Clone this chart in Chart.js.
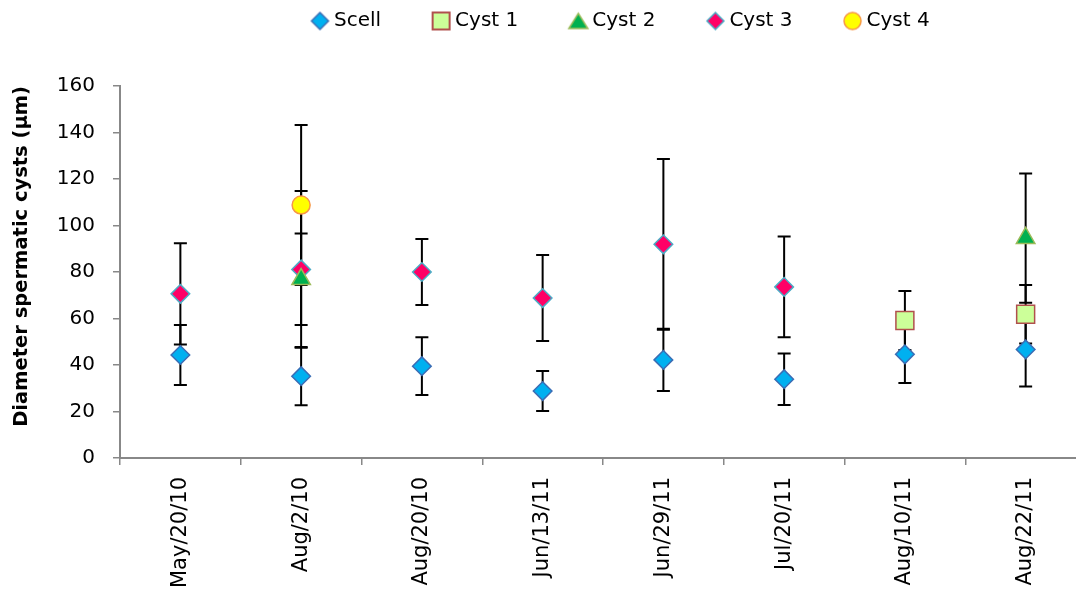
<!DOCTYPE html>
<html>
<head>
<meta charset="utf-8">
<script src="https://cdn.jsdelivr.net/npm/chart.js@4.4.1/dist/chart.umd.min.js"></script>
<style>
  html, body { margin: 0; padding: 0; background: #fff; overflow: hidden; }
  canvas { display: block; }
</style>
</head>
<body>
<canvas id="chart" width="1076" height="600"></canvas>
<script>
// Sampling dates
const categories = ['May/20/10', 'Aug/2/10', 'Aug/20/10', 'Jun/13/11', 'Jun/29/11', 'Jul/20/11', 'Aug/10/11', 'Aug/22/11'];

// Mean diameters (µm) and their error bar half-widths
const scellMean = [44.3, 35.2, 39.5, 28.8, 42.2, 33.9, 44.6, 46.7];
const scellErr  = [12.9, 12.5, 12.4, 8.6, 13.4, 11.1, 12.3, 16.0];

const cyst1Mean = [null, null, null, null, null, null, 59.1, 61.8];
const cyst1Err  = [null, null, null, null, null, null, 12.7, 12.6];

const cyst2Mean = [null, 76.9, null, null, null, null, null, 94.6];
const cyst2Err  = [null, 19.7, null, null, null, null, null, 27.8];

const cyst3Mean = [70.6, 81.1, 80.0, 68.8, 91.9, 73.6, null, null];
const cyst3Err  = [21.8, 33.7, 14.2, 18.5, 36.7, 21.7, null, null];

const cyst4Mean = [null, 108.8, null, null, null, null, null, null];
const cyst4Err  = [null, 34.4, null, null, null, null, null, null];

const seriesNames = ['Scell', 'Cyst 1', 'Cyst 2', 'Cyst 3', 'Cyst 4'];
const yTicks = [0, 20, 40, 60, 80, 100, 120, 140, 160];

// The date axis runs in category slots; the plot is cut off at the right
// edge a little before the end of the last slot.
const X_MIN = -0.5;
const X_MAX = categories.length - 0.5 - 0.083;

const FONT = 'DejaVu Sans';
Chart.defaults.font.family = FONT;
Chart.defaults.color = '#000';

// Small canvases used as legend symbols
function legendIcon(shape, size, fill, stroke, lw) {
  const c = document.createElement('canvas');
  const pad = 3;
  c.width = size + pad * 2;
  c.height = size + pad * 2;
  const g = c.getContext('2d');
  const m = c.width / 2, h = size / 2;
  g.beginPath();
  if (shape === 'diamond') {
    g.moveTo(m, m - h); g.lineTo(m + h, m); g.lineTo(m, m + h); g.lineTo(m - h, m); g.closePath();
  } else if (shape === 'square') {
    g.rect(m - h, m - h, size, size);
  } else if (shape === 'triangle') {
    const th = size * 0.8;
    g.moveTo(m, m - th / 2); g.lineTo(m + h, m + th / 2); g.lineTo(m - h, m + th / 2); g.closePath();
  } else {
    g.arc(m, m, h, 0, Math.PI * 2);
  }
  g.fillStyle = fill; g.fill();
  g.lineWidth = lw; g.strokeStyle = stroke; g.stroke();
  return c;
}

const styles = [
  { shape: 'rectRot',  radius: 9.3,  fill: '#00B0F0', stroke: '#3A6DB5', icon: legendIcon('diamond', 17, '#00B0F0', '#3A6DB5', 1.5) },
  { shape: 'rect',     radius: 12.7, fill: '#CCFF99', stroke: '#B0504D', icon: legendIcon('square', 17, '#CCFF99', '#B0504D', 2) },
  { shape: 'triangle', radius: 10.7, fill: '#00B050', stroke: '#9BBB59', icon: legendIcon('triangle', 19, '#00B050', '#9BBB59', 1.5) },
  { shape: 'rectRot',  radius: 9.3,  fill: '#FF0066', stroke: '#4BACC6', icon: legendIcon('diamond', 17, '#FF0066', '#4BACC6', 1.5) },
  { shape: 'circle',   radius: 9,    fill: '#FFFF00', stroke: '#F79646', icon: legendIcon('circle', 17, '#FFFF00', '#F79646', 1.5) }
];

const means = [scellMean, cyst1Mean, cyst2Mean, cyst3Mean, cyst4Mean];
const errs  = [scellErr, cyst1Err, cyst2Err, cyst3Err, cyst4Err];

const datasets = seriesNames.map((name, i) => ({
  label: name,
  data: means[i].map((v, k) => ({ x: k, y: v })),
  errors: errs[i],
  showLine: false,
  pointStyle: styles[i].shape,
  pointRadius: styles[i].radius,
  pointHoverRadius: styles[i].radius,
  pointBackgroundColor: styles[i].fill,
  pointBorderColor: styles[i].stroke,
  pointBorderWidth: 1.5,
  backgroundColor: styles[i].fill,
  borderColor: styles[i].stroke
}));

// Vertical error bars with caps, drawn beneath the markers
const errorBars = {
  id: 'errorBars',
  beforeDatasetsDraw(chart) {
    const { ctx } = chart;
    const xs = chart.scales.x;
    const ys = chart.scales.y;
    ctx.save();
    ctx.strokeStyle = '#000';
    ctx.lineWidth = 2;
    chart.data.datasets.forEach((ds) => {
      ds.data.forEach((p, i) => {
        const e = ds.errors[i];
        if (p.y == null || e == null) return;
        const x = xs.getPixelForValue(p.x);
        const yt = ys.getPixelForValue(p.y + e);
        const yb = ys.getPixelForValue(p.y - e);
        ctx.beginPath();
        ctx.moveTo(x, yt); ctx.lineTo(x, yb);
        ctx.moveTo(x - 6.5, yt); ctx.lineTo(x + 6.5, yt);
        ctx.moveTo(x - 6.5, yb); ctx.lineTo(x + 6.5, yb);
        ctx.stroke();
      });
    });
    ctx.restore();
  }
};

// Fixes the legend band height and places the legend row
const legendPlacement = {
  id: 'legendPlacement',
  beforeLayout(chart) {
    const lg = chart.legend;
    if (lg && !lg._fixedFit) {
      const fit = lg.fit.bind(lg);
      lg.fit = function () { fit(); this.height = 86; };
      lg._fixedFit = true;
    }
  },
  afterLayout(chart) {
    const lg = chart.legend;
    const pad = lg.options.labels.padding;
    lg.left = 316 - pad;
    lg.top = 21 - 10 - pad;
  }
};

new Chart(document.getElementById('chart'), {
  type: 'line',
  data: { datasets },
  plugins: [errorBars, legendPlacement],
  options: {
    responsive: false,
    maintainAspectRatio: false,
    devicePixelRatio: 1,
    animation: false,
    events: [],
    layout: { padding: 0, autoPadding: false },
    plugins: {
      tooltip: { enabled: false },
      legend: {
        position: 'top',
        align: 'start',
        labels: {
          usePointStyle: true,
          boxWidth: 8,
          padding: 56,
          color: '#000',
          font: { family: FONT, size: 20 },
          generateLabels(chart) {
            return chart.data.datasets.map((ds, i) => ({
              text: ds.label,
              pointStyle: styles[i].icon,
              fillStyle: styles[i].fill,
              strokeStyle: styles[i].stroke,
              lineWidth: 1,
              hidden: false,
              datasetIndex: i
            }));
          }
        }
      }
    },
    scales: {
      // date labels, one at the middle of each slot
      x: {
        type: 'linear',
        position: 'bottom',
        weight: 0,
        min: X_MIN,
        max: X_MAX,
        afterFit(scale) {
          scale.height = 142;
          scale.paddingLeft = 0;
          scale.paddingRight = 0;
        },
        afterBuildTicks(scale) { scale.ticks = categories.map((c, k) => ({ value: k })); },
        border: { display: true, color: '#888888', width: 2 },
        grid: { display: true, drawOnChartArea: false, drawTicks: false },
        ticks: {
          autoSkip: false,
          minRotation: 90,
          maxRotation: 90,
          padding: 19,
          color: '#000',
          font: { family: FONT, size: 21 },
          callback: (v) => categories[v]
        }
      },
      // tick marks on the slot boundaries
      xSlots: {
        type: 'linear',
        position: 'bottom',
        weight: -1,
        min: X_MIN,
        max: X_MAX,
        afterFit(scale) {
          scale.height = 0;
          scale.paddingLeft = 0;
          scale.paddingRight = 0;
        },
        afterBuildTicks(scale) { scale.ticks = categories.map((c, k) => ({ value: k - 0.5 })); },
        border: { display: false },
        grid: { drawOnChartArea: false, drawTicks: true, tickLength: 7, color: '#888888', lineWidth: 1.5 },
        ticks: { display: false }
      },
      y: {
        min: 0,
        max: 160,
        afterFit(scale) { scale.width = 120; },
        afterBuildTicks(scale) { scale.ticks = yTicks.map(v => ({ value: v })); },
        border: { display: true, color: '#888888', width: 2 },
        grid: { drawOnChartArea: false, drawTicks: true, tickLength: 7, color: '#888888', lineWidth: 1.5 },
        ticks: {
          padding: 18,
          color: '#000',
          font: { family: FONT, size: 20 }
        },
        title: {
          display: true,
          text: 'Diameter spermatic cysts (µm)',
          align: 'end',
          color: '#000',
          padding: { top: 10, bottom: 0 },
          font: { family: FONT, size: 19.5, weight: 'bold' }
        }
      }
    }
  }
});
</script>
</body>
</html>
